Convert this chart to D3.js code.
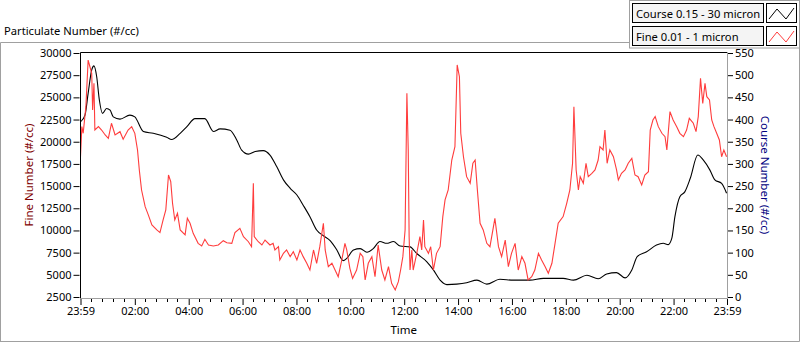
<!DOCTYPE html>
<html><head><meta charset="utf-8">
<script src="https://cdn.jsdelivr.net/npm/d3@7"></script>
<style>
body{margin:0;background:#fff}
svg{display:block}
text{font-family:"Noto Sans","Open Sans",sans-serif}
</style>
</head><body>
<svg id="chart" width="800" height="342"></svg>
<script>
// ---- data (minutes elapsed since 23:59 start) ----
const courseMinutes = [0,10,17,25,30,36,42,49,58,66,73,88,110,121,140,162,192,203,222,237,255,277,296,311,333,348,359,374,389,407,422,437,452,467,482,496,511,526,541,556,571,585,593,608,623,638,652,667,682,697,712,734,749,771,786,801,816,838,860,883,905,934,964,1001,1031,1075,1098,1128,1153,1172,1194,1213,1228,1240,1261,1283,1298,1309,1317,1324,1335,1346,1358,1375,1387,1402,1413,1428,1439];
const courseValues  = [395,410,459,512,521,497,444,414,425,421,406,401,410,406,373,369,360,355,369,384,402,402,373,379,376,354,331,322,328,330,320,294,264,245,230,207,181,151,138,127,106,82,87,106,109,101,109,125,121,125,115,113,98,80,61,38,28,29,32,38,29,40,38,38,42,42,38,49,41,52,55,43,61,91,102,117,121,118,132,181,226,237,267,320,309,286,264,256,234];

const fineMinutes = [0,3,6,12,17,21,25,27,30,32,40,47,55,62,69,77,88,95,106,114,121,127,131,136,144,151,159,170,177,184,190,196,201,205,210,216,222,233,238,244,251,262,270,277,285,296,307,318,326,337,344,355,363,374,381,385,387,396,404,411,422,429,433,441,444,452,459,467,474,482,489,496,504,511,519,526,533,541,545,552,560,567,574,582,589,593,600,606,615,623,629,634,641,649,656,663,671,678,686,693,701,708,713,718,723,727,730,732,734,738,741,749,756,760,764,767,775,780,786,793,801,807,812,819,827,834,839,844,847,853,860,868,874,879,884,890,897,905,912,923,931,938,946,953,960,968,975,983,990,997,1005,1012,1020,1027,1035,1042,1050,1057,1064,1075,1083,1090,1096,1099,1104,1109,1113,1120,1126,1131,1139,1146,1153,1157,1164,1168,1173,1179,1187,1194,1198,1205,1213,1220,1228,1235,1242,1250,1257,1265,1269,1275,1280,1287,1295,1302,1306,1313,1320,1328,1335,1343,1350,1356,1365,1371,1376,1381,1386,1391,1395,1401,1406,1411,1417,1423,1428,1433,1439];
const fineValues  = [18300,21700,20950,23950,29200,28450,27700,23570,26580,21320,21700,21320,20760,20390,22080,20760,21130,20270,21320,21700,20950,19070,16820,14560,12680,11750,10620,10060,9760,11180,12310,16250,15500,13060,11180,11930,10060,9500,11370,10810,9680,8550,8250,9000,8360,8250,8360,8850,8620,8550,9750,10240,9300,8730,8170,15310,9300,8730,8360,8920,8360,8550,7800,8170,6670,7420,7800,7050,7610,6670,7800,7050,6300,5540,7800,6300,8170,10810,7800,5920,6300,5540,4790,6670,8550,7800,5730,4600,5540,7420,7050,4420,6300,7050,4790,8360,5540,4420,5920,4040,3290,4230,5540,7050,10060,25460,19070,9300,5540,7800,5540,7420,9300,7800,11180,8170,7420,8170,5540,7420,8170,11560,13440,14560,17940,19440,28650,27330,20950,18310,16060,15310,17570,17940,14560,10810,10060,8550,8170,11370,8170,7050,8920,5920,7420,8550,5540,7050,6300,4420,4790,5540,7420,6670,5920,5170,6300,8550,10810,11560,13060,14560,17570,23950,16820,14560,16060,15310,17570,16060,16440,16820,17940,19440,19070,21320,17570,19070,18310,16820,15690,16440,16820,17570,18120,16250,16060,15120,16250,16630,21320,22450,22830,21700,20950,20570,19070,23390,22450,21700,20950,20570,21320,22640,22080,21130,22830,27140,24320,26580,25080,24710,22450,21700,20950,20200,18310,19070,18310];

const fineTicks   = [2500,5000,7500,10000,12500,15000,17500,20000,22500,25000,27500,30000];
const courseTicks = [0,50,100,150,200,250,300,350,400,450,500,550];
const timeTickLabels = ["23:59","02:00","04:00","06:00","08:00","10:00","12:00","14:00","16:00","18:00","20:00","22:00","23:59"];
const seriesNames = ["Course 0.15 - 30 micron","Fine 0.01 - 1 micron"];
const seriesColors = ["#000000","#ff3c3c"];

// ---- layout ----
const svg = d3.select("#chart");
const L = 80.5, R = 727, T = 53, B = 297;
const FS = 11;
const start = new Date(2020,0,1,23,59);
const minToDate = m => new Date(start.getTime() + m*60000);
const parseTick = (s,i) => {
  const [h,mm] = s.split(":").map(Number);
  return new Date(2020,0, i===0?1:2, h, mm);
};
const x = d3.scaleTime().domain([start, minToDate(1440)]).range([L, R]);
const yF = d3.scaleLinear().domain([2500,30000]).range([B, T]);
const yC = d3.scaleLinear().domain([0,550]).range([B, T]);

// outer frame
svg.append("path").attr("d","M0.5,341.5 V42.5 H629").attr("fill","none").attr("stroke","#a0a0a0");
svg.append("path").attr("d","M799.5,48 V341.5 H0").attr("fill","none").attr("stroke","#a0a0a0");

// title
svg.append("text").attr("x",4).attr("y",35).attr("font-size",11.2).attr("fill","#000").text("Particulate Number (#/cc)");

// plot area
svg.append("rect").attr("x",L).attr("y",52).attr("width",R-L).attr("height",B+1-52).attr("fill","#fff");
svg.append("path").attr("d",`M${L},${B+1.5} V52.5 H${R}`).attr("fill","none").attr("stroke","#000");
svg.append("path").attr("d",`M${R+0.5},52 V${B+1.5} H${L}`).attr("fill","none").attr("stroke","#a0a0a0");

// left axis
const gL = svg.append("g").attr("transform",`translate(${L-1},0)`)
  .call(d3.axisLeft(yF).tickValues(fineTicks).tickSize(6).tickPadding(2).tickFormat(d3.format("d")));
gL.select(".domain").remove();
gL.selectAll("text").attr("font-size",FS).attr("fill","#000").attr("font-family","'Noto Sans',sans-serif");

// right axis
const gR = svg.append("g").attr("transform",`translate(${R+1},0)`)
  .call(d3.axisRight(yC).tickValues(courseTicks).tickSize(5).tickPadding(2).tickFormat(d3.format("d")));
gR.select(".domain").remove();
gR.selectAll("text").attr("font-size",FS).attr("fill","#000").attr("font-family","'Noto Sans',sans-serif");

// bottom axis
const majorDates = timeTickLabels.map(parseTick);
const gB = svg.append("g").attr("transform",`translate(0,${B+2})`)
  .call(d3.axisBottom(x).tickValues(majorDates).tickSize(6).tickPadding(2).tickFormat((d,i)=>timeTickLabels[i]));
gB.select(".domain").remove();
gB.selectAll("text").attr("font-size",FS).attr("fill","#000").attr("font-family","'Noto Sans',sans-serif");
const minor = d3.range(1,60).filter(k=>k%5!==0).map(k=>minToDate(k*24));
svg.append("g").selectAll("line").data(minor).join("line")
  .attr("x1",d=>Math.round(x(d))+0.5).attr("x2",d=>Math.round(x(d))+0.5)
  .attr("y1",B+2).attr("y2",B+5).attr("stroke","#000");

// axis titles
svg.append("text").attr("transform",`translate(33,${(T+B)/2}) rotate(-90)`).attr("text-anchor","middle")
  .attr("font-size",11.5).attr("fill","#800000").text("Fine Number (#/cc)");
svg.append("text").attr("transform",`translate(761,${(T+B)/2}) rotate(90)`).attr("text-anchor","middle")
  .attr("font-size",11.5).attr("fill","#000080").text("Course Number (#/cc)");
svg.append("text").attr("x",(L+R)/2).attr("y",334).attr("text-anchor","middle")
  .attr("font-size",11.5).attr("fill","#000").text("Time");

// lines
const courseData = courseMinutes.map((m,i)=>({t:minToDate(m),v:courseValues[i]}));
const fineData = fineMinutes.map((m,i)=>({t:minToDate(m),v:fineValues[i]}));
svg.append("clipPath").attr("id","pc").append("rect").attr("x",L+0.5).attr("y",53).attr("width",R-L-0.5).attr("height",B-52);
const plotG = svg.append("g").attr("clip-path","url(#pc)");
plotG.append("path").datum(courseData).attr("fill","none").attr("stroke",seriesColors[0]).attr("stroke-width",1.1)
  .attr("d",d3.line().x(d=>x(d.t)).y(d=>yC(d.v)).curve(d3.curveMonotoneX));
plotG.append("path").datum(fineData).attr("fill","none").attr("stroke",seriesColors[1]).attr("stroke-width",1.1)
  .attr("d",d3.line().x(d=>x(d.t)).y(d=>yF(d.v)));

// legend
const lg = svg.append("g");
lg.append("rect").attr("x",629.5).attr("y",0.5).attr("width",170).attr("height",47.5).attr("fill","#fff").attr("stroke","#a0a0a0");
seriesNames.forEach((name,i)=>{
  const y0 = 3 + i*23;
  lg.append("rect").attr("x",632.5).attr("y",y0+0.5).attr("width",131).attr("height",19).attr("fill","#f4f4f4").attr("stroke","#000");
  lg.append("text").attr("x",636).attr("y",y0+14.5).attr("font-size",11.2).attr("fill","#000").text(name);
  lg.append("rect").attr("x",766.5).attr("y",y0+0.5).attr("width",30).attr("height",19).attr("fill","#fff").attr("stroke","#000");
  lg.append("path").attr("d",`M769,${y0+16} L777,${y0+6} L786,${y0+16} L794,${y0+5}`)
    .attr("fill","none").attr("stroke",seriesColors[i]);
});
</script>
</body></html>
